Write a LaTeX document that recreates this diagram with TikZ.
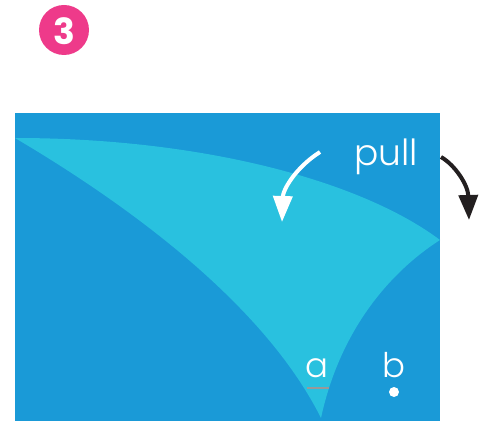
\documentclass[tikz,border=0pt]{standalone}
\usepackage{fontspec}
\setmainfont{Poppins}[UprightFont=* Light,BoldFont=* Bold]
\usepackage{tikz}
\usetikzlibrary{arrows.meta}
\usepackage{xcolor}
\definecolor{bgblue}{HTML}{1A9AD7}
\definecolor{flap}{HTML}{29C1DF}
\definecolor{badge}{HTML}{EE3A8A}
\definecolor{darkarrow}{HTML}{231F20}

\begin{document}
\begin{tikzpicture}[x=1pt,y=-1pt,every node/.style={text=white,inner sep=0pt}]
        \useasboundingbox (0,0) rectangle (484,422);

        % sheet and folded flap
        \fill[bgblue] (15,113) rectangle (440,421);
        \fill[flap] (15,138) .. controls (200,138) and (360,180) .. (440,240)
            .. controls (390,272) and (340,330) .. (321,418)
            .. controls (262,300) and (120,200) .. (15,138) -- cycle;

        % step badge
        \fill[badge] (64,30) circle (25);
        \node[font=\bfseries\fontsize{36}{36}\selectfont] (step3) at (64,31) {3};

        % labels
        \node[anchor=base,font=\fontsize{36}{36}\selectfont] (pull) at (386,165) {pull};
        \node[anchor=base,font=\fontsize{34}{34}\selectfont] (a) at (317,377) {a};
        \node[anchor=base,font=\fontsize{34}{34}\selectfont] (b) at (394,377) {b};
        \draw[gray!80,line width=2] (307,388) -- (329,388);
        \fill[white] (394,392) circle (5);

        % arrows
        \coordinate (w1) at (320,152);
        \coordinate (w2) at (282,222);
        \coordinate (k1) at (441,157);
        \coordinate (k2) at (469,220);
        \draw[white,line width=4,-{Triangle[length=26,width=19]}] (w1) .. controls (295,168) and (283,190) .. (w2);
        \draw[darkarrow,line width=4,-{Triangle[length=25,width=19]}] (k1) .. controls (455,165) and (468,185) .. (k2);
    \end{tikzpicture}
\end{document}
